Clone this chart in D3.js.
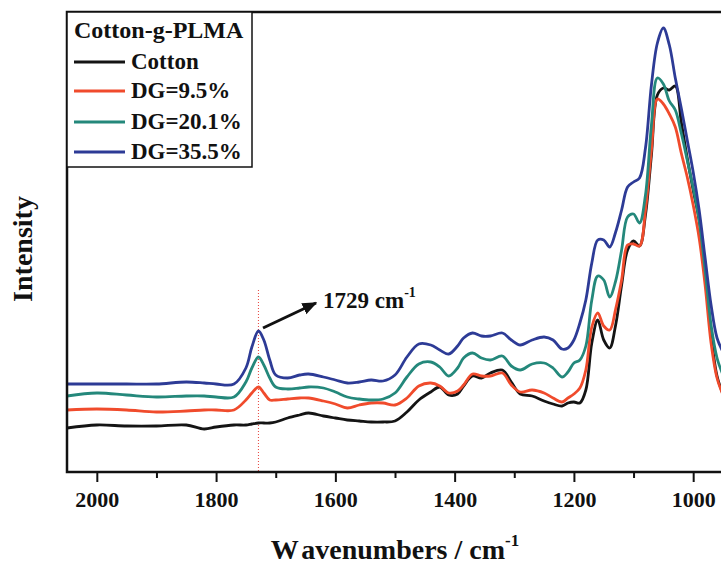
<!DOCTYPE html>
<meta charset="utf-8">
<style>
body { margin: 0; background: #fff; }
svg { display: block; }
text { font-family: "Liberation Serif", "Times New Roman", serif; font-weight: bold; fill: #111; }
</style>
<body>
<script src="https://d3js.org/d3.v7.min.js"></script>
<script>

// wavenumbers (cm-1) shared by all spectra
var wavenumbers = [2050, 2000, 1950, 1900, 1850, 1820, 1800, 1770, 1750, 1740,
  1729, 1720, 1710, 1700, 1680, 1660, 1645, 1620, 1600, 1580,
  1560, 1540, 1520, 1500, 1480, 1460, 1440, 1425, 1410, 1395,
  1385, 1370, 1355, 1340, 1320, 1305, 1290, 1270, 1250, 1235,
  1220, 1210, 1200, 1190, 1180, 1170, 1160, 1150, 1140, 1130,
  1120, 1110, 1100, 1090, 1080, 1070, 1060, 1050, 1040, 1030,
  1020, 1010, 1000, 990, 980, 970, 960, 950];

// intensities, arbitrary units
var cotton = [44, 47, 46, 46, 47, 43, 45, 47, 47, 48,
  49, 49, 49, 50, 54, 57, 59, 56, 54, 52,
  51, 50, 50, 51, 60, 72, 80, 85, 77, 78,
  86, 96, 94, 99, 102, 90, 78, 76, 71, 68,
  66, 69, 70, 69, 82, 129, 152, 132, 124, 147,
  187, 222, 231, 226, 257, 317, 377, 384, 382, 386,
  350, 314, 282, 252, 202, 137, 96, 78];

var dg95 = [62, 63, 62, 60, 61, 62, 62, 62, 72, 79,
  85, 79, 72, 72, 73, 74, 74, 71, 68, 64,
  67, 69, 69, 67, 74, 86, 89, 86, 79, 81,
  87, 98, 96, 96, 99, 87, 80, 82, 79, 74,
  70, 74, 78, 84, 102, 145, 159, 146, 142, 163,
  192, 227, 228, 226, 262, 322, 373, 368, 358, 345,
  319, 295, 267, 234, 187, 129, 94, 77];

var dg201 = [76, 79, 77, 75, 76, 76, 75, 75, 90, 104,
  115, 107, 94, 85, 83, 84, 85, 84, 80, 75,
  73, 72, 73, 79, 95, 108, 110, 105, 96, 104,
  114, 119, 114, 112, 116, 106, 102, 108, 109, 104,
  95, 100, 109, 112, 126, 172, 196, 192, 175, 191,
  222, 255, 258, 249, 277, 347, 394, 388, 371, 362,
  339, 312, 284, 252, 202, 147, 114, 97];

var dg355 = [88, 88, 88, 88, 90, 89, 88, 88, 104, 125,
  141, 132, 112, 97, 94, 97, 98, 95, 92, 89,
  90, 92, 91, 97, 115, 128, 127, 122, 118, 126,
  134, 139, 136, 136, 139, 132, 127, 132, 135, 132,
  123, 124, 132, 149, 172, 209, 232, 232, 225, 240,
  262, 285, 290, 294, 324, 387, 429, 444, 427, 394,
  364, 332, 300, 262, 214, 167, 134, 120];

var seriesNames = ["Cotton", "DG=9.5%", "DG=20.1%", "DG=35.5%"];
var seriesColors = ["#141414", "#f04b2c", "#24887b", "#2d3b96"];
var allSeries = [cotton, dg95, dg201, dg355];

var majorTicks = [2000, 1800, 1600, 1400, 1200, 1000];
var minorTicks = [1900, 1700, 1500, 1300, 1100];
var peakMark = 1729;

var width = 721, height = 565,
    plotLeft = 67, plotRight = 723, plotTop = 12, plotBottom = 472;

var svg = d3.select("body").append("svg")
    .attr("width", width)
    .attr("height", height);

var x = d3.scaleLinear().domain([2050, 950]).range([plotLeft, plotRight]);
var y = d3.scaleLinear().domain([0, 460]).range([plotBottom, plotTop]);

var defs = svg.append("defs");
defs.append("clipPath").attr("id", "plot")
  .append("rect")
    .attr("x", plotLeft).attr("y", plotTop)
    .attr("width", plotRight - plotLeft).attr("height", plotBottom - plotTop);

// dotted guide at the carbonyl band
svg.append("line")
    .attr("x1", x(peakMark)).attr("x2", x(peakMark))
    .attr("y1", 290).attr("y2", plotBottom)
    .attr("stroke", "#e8403a")
    .attr("stroke-width", 1)
    .attr("stroke-dasharray", "1,2");

var line = d3.line()
    .x(function(d, i) { return x(wavenumbers[i]); })
    .y(function(d) { return y(d); })
    .curve(d3.curveCatmullRom.alpha(0.5));

svg.append("g").attr("clip-path", "url(#plot)")
  .selectAll("path")
  .data(allSeries)
  .enter().append("path")
    .attr("d", line)
    .attr("fill", "none")
    .attr("stroke", function(d, i) { return seriesColors[i]; })
    .attr("stroke-width", 2.8)
    .attr("stroke-linejoin", "round");

// x axis
var xAxis = svg.append("g").attr("transform", "translate(0," + plotBottom + ")");
xAxis.call(d3.axisBottom(x).tickValues(majorTicks).tickSize(10).tickPadding(9).tickFormat(d3.format("d")));
xAxis.select(".domain").remove();
xAxis.selectAll(".tick line").attr("stroke", "#111").attr("stroke-width", 2);
xAxis.selectAll(".tick text")
    .attr("font-family", "Liberation Serif, serif")
    .attr("font-weight", "bold")
    .attr("font-size", 22)
    .attr("fill", "#111");

var xMinor = svg.append("g").attr("transform", "translate(0," + plotBottom + ")");
xMinor.call(d3.axisBottom(x).tickValues(minorTicks).tickSize(6).tickFormat(""));
xMinor.select(".domain").remove();
xMinor.selectAll(".tick line").attr("stroke", "#111").attr("stroke-width", 2);

// frame
svg.append("rect")
    .attr("x", plotLeft).attr("y", plotTop)
    .attr("width", plotRight - plotLeft).attr("height", plotBottom - plotTop)
    .attr("fill", "none")
    .attr("stroke", "#111")
    .attr("stroke-width", 2.5);

// axis titles
var xt = svg.append("text")
    .attr("x", (plotLeft + plotRight) / 2)
    .attr("y", 559)
    .attr("text-anchor", "middle")
    .attr("font-size", 28);
xt.append("tspan").text("W");
xt.append("tspan").attr("dx", 4).text("avenumbers / cm");
xt.append("tspan").attr("font-size", 17).attr("dy", -13).text("-1");

svg.append("text")
    .attr("transform", "translate(32,249) rotate(-90)")
    .attr("text-anchor", "middle")
    .attr("font-size", 28)
    .text("Intensity");

// annotation
defs.append("marker")
    .attr("id", "head")
    .attr("viewBox", "0 0 10 10")
    .attr("refX", 9).attr("refY", 5)
    .attr("markerWidth", 5).attr("markerHeight", 5)
    .attr("orient", "auto")
  .append("path")
    .attr("d", "M0,1 L10,5 L0,9 z")
    .attr("fill", "#111");

svg.append("line")
    .attr("x1", 263).attr("y1", 328)
    .attr("x2", 316).attr("y2", 303)
    .attr("stroke", "#111")
    .attr("stroke-width", 3)
    .attr("marker-end", "url(#head)");

var ann = svg.append("text")
    .attr("x", 323).attr("y", 308)
    .attr("font-size", 23);
ann.append("tspan").text(peakMark + " cm");
ann.append("tspan").attr("font-size", 14).attr("dy", -11).text("-1");

// legend
var legend = svg.append("g");
legend.append("rect")
    .attr("x", plotLeft).attr("y", plotTop)
    .attr("width", 185).attr("height", 155)
    .attr("fill", "#fff")
    .attr("stroke", "#111")
    .attr("stroke-width", 1.5);

legend.append("text")
    .attr("x", 74).attr("y", 38)
    .attr("font-size", 24)
    .text("Cotton-g-PLMA");

var legendRows = [62, 91, 122, 152];
seriesNames.forEach(function(name, i) {
  legend.append("line")
      .attr("x1", 74).attr("x2", 125)
      .attr("y1", legendRows[i]).attr("y2", legendRows[i])
      .attr("stroke", seriesColors[i])
      .attr("stroke-width", 2.8);
  legend.append("text")
      .attr("x", 131).attr("y", legendRows[i] + 7)
      .attr("font-size", 23)
      .text(name);
});

</script>
